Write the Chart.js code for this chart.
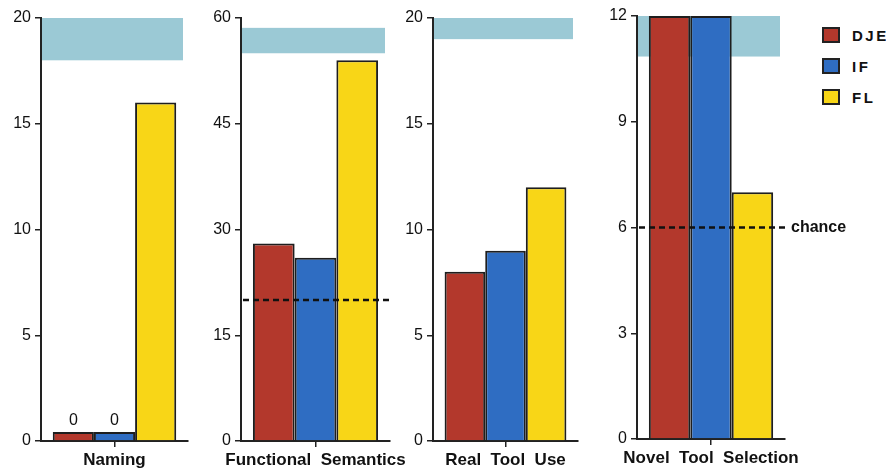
<!DOCTYPE html>
<html lang="en">
<head>
  <meta charset="UTF-8">
  <title>Tool knowledge</title>
  <script src="https://cdn.jsdelivr.net/npm/chart.js"></script>
  <style>
    body { margin: 0; background: #fff; }
    .wrap { position: relative; width: 886px; height: 470px; overflow: hidden; }
    .wrap canvas { position: absolute; top: 0; }
    .legend { position: absolute; left: 822px; top: 27px; font: bold 15px 'Liberation Sans', Arial, sans-serif; letter-spacing: 2.5px; color: #111; }
    .legend div { display: flex; align-items: center; height: 16px; margin-bottom: 15px; }
    .legend span { display: inline-block; width: 14px; height: 12px; border: 2px solid #222; margin-right: 12px; }
  </style>
</head>
<body>
  <div class="wrap" id="wrap">
    <div class="legend" id="legend"></div>
  </div>
  <script>
    const categories = ['Naming', 'Functional  Semantics', 'Real  Tool  Use', 'Novel  Tool  Selection'];
    const seriesNames = ['DJE', 'IF', 'FL'];
    const djeValues = [0, 28, 8, 12];
    const ifValues = [0, 26, 9, 12];
    const flValues = [16, 54, 12, 7];
    const axisMax = [20, 60, 20, 12];
    const axisStep = [5, 15, 5, 3];
    const bandLow = [18, 55, 19, 10.85];
    const bandHigh = [20, 58.6, 20, 12];
    const chanceLevel = [null, 20, null, 6];
    const chanceLabel = [null, null, null, 'chance'];

    const colors = ['#b3382c', '#2f6dc2', '#f8d617'];
    const bandColor = 'rgba(150, 198, 211, 0.95)';
    const fontFamily = "'Liberation Sans', Arial, sans-serif";

    // canvas placement for each panel
    const panels = [
      { left: 0, width: 200, padRight: 12, padTop: 18, bottom: 441 },
      { left: 200, width: 220, padRight: 30, padTop: 18, bottom: 441 },
      { left: 392, width: 200, padRight: 14, padTop: 18, bottom: 441 },
      { left: 596, width: 290, padRight: 101, padTop: 16, bottom: 439 }
    ];

    const wrap = document.getElementById('wrap');

    const extras = {
      id: 'extras',
      beforeDatasetsDraw(chart) {
        const i = chart.options.panelIndex;
        const { ctx, chartArea: a, scales: { y } } = chart;
        const top = y.getPixelForValue(bandHigh[i]);
        const bot = y.getPixelForValue(bandLow[i]);
        ctx.save();
        ctx.fillStyle = bandColor;
        ctx.fillRect(a.left + 1, top, a.right - a.left - 6, bot - top);
        ctx.restore();
      },
      afterDatasetsDraw(chart) {
        const i = chart.options.panelIndex;
        const { ctx, chartArea: a, scales: { y } } = chart;
        ctx.save();
        // labels for zero-height bars
        ctx.font = '16px ' + fontFamily;
        ctx.fillStyle = '#111';
        ctx.textAlign = 'center';
        ctx.textBaseline = 'bottom';
        chart.data.datasets.forEach((ds, d) => {
          if (ds.data[0] !== 0) return;
          const bar = chart.getDatasetMeta(d).data[0];
          ctx.fillText('0', bar.x, bar.y - 3);
        });
        if (chanceLevel[i] !== null) {
          const yy = y.getPixelForValue(chanceLevel[i]);
          ctx.strokeStyle = '#111';
          ctx.lineWidth = 2.5;
          ctx.setLineDash([6, 4]);
          ctx.beginPath();
          ctx.moveTo(a.left + 2, yy);
          ctx.lineTo(a.right + 3, yy);
          ctx.stroke();
          if (chanceLabel[i]) {
            ctx.font = 'bold 16px ' + fontFamily;
            ctx.textAlign = 'left';
            ctx.textBaseline = 'middle';
            ctx.fillText(chanceLabel[i], a.right + 6, yy);
          }
        }
        ctx.restore();
      }
    };

    panels.forEach((p, i) => {
      const canvas = document.createElement('canvas');
      canvas.width = p.width;
      canvas.height = 470;
      canvas.style.left = p.left + 'px';
      wrap.appendChild(canvas);

      const values = [djeValues[i], ifValues[i], flValues[i]];

      new Chart(canvas, {
        type: 'bar',
        data: {
          labels: [categories[i]],
          datasets: seriesNames.map((name, d) => ({
            label: name,
            data: [values[d]],
            backgroundColor: colors[d],
            borderColor: '#1e1e1e',
            borderWidth: 2,
            minBarLength: 9,
            categoryPercentage: 0.84,
            barPercentage: 1.0
          }))
        },
        options: {
          panelIndex: i,
          responsive: false,
          animation: false,
          layout: { padding: { top: p.padTop, right: p.padRight, left: 0, bottom: 0 } },
          plugins: { legend: { display: false }, tooltip: { enabled: false } },
          scales: {
            x: {
              afterFit: (s) => { s.height = 470 - p.bottom; s.paddingLeft = 0; s.paddingRight = 0; },
              border: { color: '#222', width: 2 },
              grid: { drawOnChartArea: false, offset: false, tickLength: 6, color: '#222', lineWidth: 1.5 },
              ticks: { color: '#111', padding: 3, font: { family: fontFamily, size: 17, weight: 'bold' } }
            },
            y: {
              min: 0,
              max: axisMax[i],
              afterFit: (s) => { s.width = 41; },
              border: { color: '#222', width: 2 },
              grid: { drawOnChartArea: false, tickLength: 6, color: '#222', lineWidth: 1.5 },
              ticks: { stepSize: axisStep[i], color: '#111', padding: 4, font: { family: fontFamily, size: 16 } }
            }
          }
        },
        plugins: [extras]
      });
    });

    const legend = document.getElementById('legend');
    seriesNames.forEach((name, d) => {
      const row = document.createElement('div');
      const box = document.createElement('span');
      box.style.background = colors[d];
      row.appendChild(box);
      row.appendChild(document.createTextNode(name));
      legend.appendChild(row);
    });
  </script>
</body>
</html>
